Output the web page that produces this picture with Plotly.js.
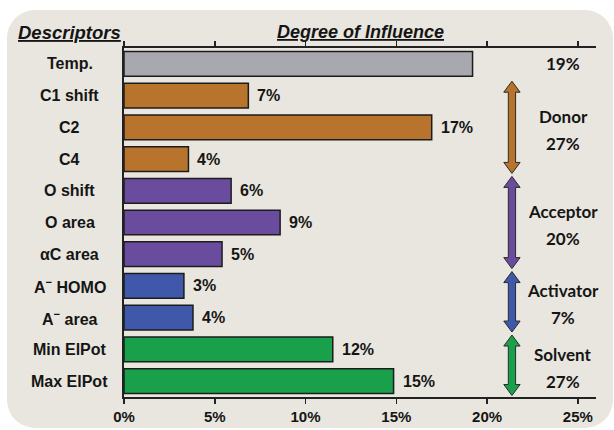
<!DOCTYPE html>
<html>
<head>
<meta charset="utf-8">
<script src="https://cdn.plot.ly/plotly-3.0.1.min.js"></script>
<style>
  html, body { margin:0; padding:0; background:#ffffff; }
  #bg { position:absolute; left:7px; top:10px; width:606px; height:418px; border-radius:28px; background:#e8e6de; }
  #chart { position:absolute; left:0; top:0; width:614px; height:430px; }
</style>
</head>
<body>
<div id="bg"></div>
<div id="chart"></div>
<script>
// ---- data ----
const categories = ['Temp.', 'C1 shift', 'C2', 'C4', 'O shift', 'O area', 'αC area', 'A- HOMO', 'A- area', 'Min ElPot', 'Max ElPot'];
const categoryLabels = ['Temp.', 'C1 shift', 'C2', 'C4', 'O shift', 'O area', 'αC area', 'A<sup>−</sup> HOMO', 'A<sup>−</sup> area', 'Min ElPot', 'Max ElPot'];
const values = [19.2, 6.85, 16.95, 3.55, 5.9, 8.6, 5.4, 3.3, 3.8, 11.5, 14.85];
const pctLabels = ['19%', '7%', '17%', '4%', '6%', '9%', '5%', '3%', '4%', '12%', '15%'];
const barGroup = ['Temp', 'Donor', 'Donor', 'Donor', 'Acceptor', 'Acceptor', 'Acceptor', 'Activator', 'Activator', 'Solvent', 'Solvent'];
const groupNames = ['Donor', 'Acceptor', 'Activator', 'Solvent'];
const groupTotals = ['27%', '20%', '7%', '27%'];
const groupStart = [1, 4, 7, 9];
const groupEnd = [3, 6, 8, 10];
const tickVals = [0, 5, 10, 15, 20, 25];
const tickText = ['0%', '5%', '10%', '15%', '20%', '25%'];

// ---- styles ----
const groupColors = { Temp: '#a8a9ae', Donor: '#b8732d', Acceptor: '#6a4c9e', Activator: '#4058aa', Solvent: '#18a04a' };
const txt = '#151515';
const n = categories.length;
const plotH = 430 - 48 - 33;

const trace = {
  type: 'bar', orientation: 'h',
  x: values, y: categories,
  width: 0.78,
  marker: { color: barGroup.map(g => groupColors[g]), line: { color: '#1c1c1c', width: 1.5 } },
  hoverinfo: 'none'
};

const annotations = [];
// category labels (centered)
categories.forEach((c, i) => {
  annotations.push({ xref: 'paper', yref: 'y', x: -0.115, y: c, text: categoryLabels[i], showarrow: false,
    xanchor: 'center', yanchor: 'middle', font: { family: 'Liberation Sans, Arial', size: 16, color: txt, weight: 'bold' } });
});
// bar value labels
categories.forEach((c, i) => {
  if (barGroup[i] === 'Temp') {
    annotations.push({ xref: 'x', yref: 'y', x: 24.2, y: c, text: pctLabels[i], showarrow: false,
      xanchor: 'center', yanchor: 'middle', font: { family: 'Lato, sans-serif', size: 17, color: txt, weight: 'bold' } });
  } else {
    annotations.push({ xref: 'x', yref: 'y', x: values[i], y: c, text: pctLabels[i], showarrow: false,
      xanchor: 'left', yanchor: 'middle', xshift: 7, font: { family: 'Liberation Sans, Arial', size: 16, color: txt, weight: 'bold' } });
  }
});
// headers
annotations.push({ xref: 'paper', yref: 'paper', x: -0.003, y: 1, yshift: 16, xanchor: 'right', yanchor: 'middle',
  text: '<u>Descriptors</u>', showarrow: false, font: { family: 'Liberation Sans, Arial', size: 18.5, color: txt, weight: 'bold', style: 'italic' } });
annotations.push({ xref: 'paper', yref: 'paper', x: 0.5, y: 1, yshift: 16, xanchor: 'center', yanchor: 'middle',
  text: '<u>Degree of Influence</u>', showarrow: false, font: { family: 'Liberation Sans, Arial', size: 18, color: txt, weight: 'bold', style: 'italic' } });

// group arrows and labels
const shapes = [];
const xc = 21.37, hs = 0.2, hh = 0.45, hl = 11 / plotH, gap = 1.5 / plotH;
groupNames.forEach((g, k) => {
  const top = 1 - groupStart[k] / n - gap;
  const bot = 1 - (groupEnd[k] + 1) / n + gap;
  const p = [
    [xc, top], [xc + hh, top - hl], [xc + hs, top - hl], [xc + hs, bot + hl], [xc + hh, bot + hl],
    [xc, bot], [xc - hh, bot + hl], [xc - hs, bot + hl], [xc - hs, top - hl], [xc - hh, top - hl]
  ];
  shapes.push({ type: 'path', xref: 'x', yref: 'paper',
    path: 'M' + p.map(q => q[0] + ',' + q[1]).join(' L') + ' Z',
    fillcolor: groupColors[g], line: { color: '#2a2a2a', width: 1 } });
  const mid = (top + bot) / 2;
  annotations.push({ xref: 'x', yref: 'paper', x: 24.2, y: mid, yshift: 11, text: g, showarrow: false,
    xanchor: 'center', yanchor: 'middle', font: { family: 'Lato, sans-serif', size: 17, color: txt, weight: 'bold' } });
  annotations.push({ xref: 'x', yref: 'paper', x: 24.2, y: mid, yshift: -16, text: groupTotals[k], showarrow: false,
    xanchor: 'center', yanchor: 'middle', font: { family: 'Lato, sans-serif', size: 17, color: txt, weight: 'bold' } });
});

const layout = {
  width: 614, height: 430,
  margin: { l: 124, r: 18, t: 48, b: 33 },
  paper_bgcolor: 'rgba(0,0,0,0)', plot_bgcolor: 'rgba(0,0,0,0)',
  showlegend: false,
  bargap: 0.22,
  xaxis: {
    range: [0, 26], tickvals: tickVals, ticktext: tickText, showgrid: false, zeroline: false,
    showline: true, linecolor: '#222', linewidth: 2, mirror: 'ticks', ticks: 'outside', ticklen: 5, tickwidth: 1.5, tickcolor: '#222',
    tickfont: { family: 'Liberation Sans, Arial', size: 15, color: txt, weight: 'bold' }, fixedrange: true
  },
  yaxis: {
    type: 'category', range: [n - 0.5, -0.5], showticklabels: false, showgrid: false, zeroline: false,
    showline: true, linecolor: '#222', linewidth: 2, ticks: '', fixedrange: true
  },
  shapes: shapes,
  annotations: annotations
};

Plotly.newPlot('chart', [trace], layout, { displayModeBar: false, staticPlot: true });
</script>
</body>
</html>
